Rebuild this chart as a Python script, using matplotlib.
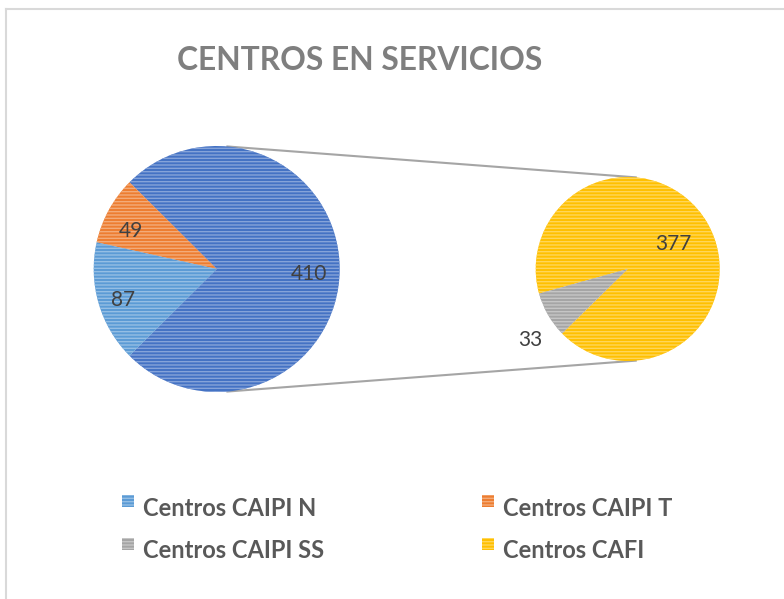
import numpy as np
import matplotlib.pyplot as plt
from matplotlib.patches import Rectangle

# values
categories = ["Centros CAIPI N", "Centros CAIPI T", "Centros CAIPI SS", "Centros CAFI"]
main_values = [87, 49]          # CAIPI N, CAIPI T (shown in the big pie)
second_values = [377, 33]       # CAFI, CAIPI SS (split out in the small pie)
colors = {"Centros CAIPI N": "#5B9BD5", "Centros CAIPI T": "#ED7D31",
          "Centros CAIPI SS": "#A5A5A5", "Centros CAFI": "#FFC000"}
other_color = "#4472C4"

plt.rcParams["hatch.linewidth"] = 1.0


def lighten(c, f):
    rgb = np.array(plt.matplotlib.colors.to_rgb(c))
    return tuple(rgb + (1 - rgb) * f)


fig = plt.figure(figsize=(7.84, 5.99), dpi=100)
ax = fig.add_axes([0, 0, 1, 1])

# big pie: "other" slice + CAIPI T + CAIPI N
other = sum(second_values)
big_vals = [other, main_values[1], main_values[0]]
big_cols = [other_color, colors["Centros CAIPI T"], colors["Centros CAIPI N"]]
c1, r1 = (216.7, 330.0), 123.0
start1 = -other / sum(big_vals) * 360 / 2
w1, _ = ax.pie(big_vals, colors=big_cols, center=c1, radius=r1, startangle=start1,
               counterclock=True, frame=True,
               wedgeprops=dict(linewidth=0, hatch="-----"))

# small pie: CAFI + CAIPI SS
c2, r2 = (627.7, 330.0), 92.0
small_cols = [colors["Centros CAFI"], colors["Centros CAIPI SS"]]
start2 = 210 + second_values[1] / sum(second_values) * 360 / 2
w2, _ = ax.pie(second_values, colors=small_cols, center=c2, radius=r2, startangle=start2,
               counterclock=True, frame=True,
               wedgeprops=dict(linewidth=0, hatch="-----"))

for w, col in zip(list(w1) + list(w2), big_cols + small_cols):
    w.set_edgecolor(lighten(col, 0.35))
    w.set_linewidth(0)

ax.set_xlim(0, 784)
ax.set_ylim(0, 599)
ax.set_aspect("equal")
ax.axis("off")

# chart area border (top and left edges visible)
ax.plot([6.5, 784], [599 - 8.5, 599 - 8.5], color="#D9D9D9", lw=1.5, zorder=0)
ax.plot([6.5, 6.5], [0, 599 - 8.5], color="#D9D9D9", lw=1.5, zorder=0)

# connector lines
ang = np.radians(85)
for s in (1, -1):
    ax.plot([c1[0] + r1 * np.cos(ang), c2[0] + r2 * np.cos(ang)],
            [c1[1] + s * r1 * np.sin(ang), c2[1] + s * r2 * np.sin(ang)],
            color="#A5A5A5", lw=1.5, zorder=0)

# data labels
label_kw = dict(ha="center", va="center", fontsize=15, color="#404040", family="Lato")
big_dist = [0.75, 0.76, 0.80]
big_shift = [0, 5, 2]
for w, v, d, sh in zip(w1, big_vals, big_dist, big_shift):
    a = np.radians((w.theta1 + w.theta2) / 2 + sh)
    ax.text(c1[0] + d * r1 * np.cos(a), c1[1] + d * r1 * np.sin(a) - (5 if v == other else 0),
            str(v), **label_kw)
small_dist = [0.57, 1.31]
small_shift = [-1, 6]
for w, v, d, sh in zip(w2, second_values, small_dist, small_shift):
    a = np.radians((w.theta1 + w.theta2) / 2 + sh)
    ax.text(c2[0] + d * r2 * np.cos(a), c2[1] + d * r2 * np.sin(a), str(v), **label_kw)

# title
ax.text(360, 599 - 60, "CENTROS EN SERVICIOS", ha="center", va="center",
        fontsize=22.9, fontweight="bold", color="#7F7F7F", family="Lato")

# legend (2 x 2)
legend_order = ["Centros CAIPI N", "Centros CAIPI T", "Centros CAIPI SS", "Centros CAFI"]
col_x = [122, 482]
row_y = [599 - 506, 599 - 549]
for i, name in enumerate(legend_order):
    x, y = col_x[i % 2], row_y[i // 2]
    ax.add_patch(Rectangle((x, y - 1), 12, 12, facecolor=colors[name],
                           edgecolor=lighten(colors[name], 0.35), linewidth=0, hatch="-----"))
    ax.text(x + 21, y - 2, name, ha="left", va="center", fontsize=17,
            fontweight="bold", color="#595959", family="Lato")

fig.savefig("out.png", dpi=100)
